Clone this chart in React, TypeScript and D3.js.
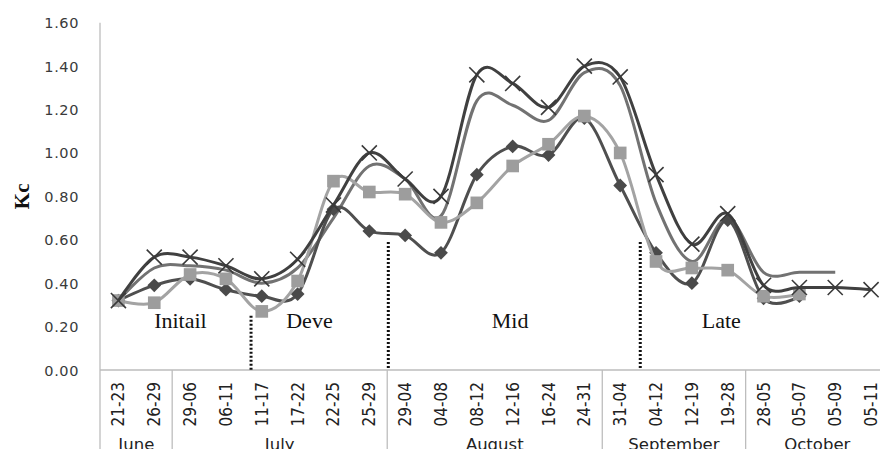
import React from 'react';
import * as d3 from 'd3';

const periods = [
  '21-23', '26-29', '29-06', '06-11', '11-17', '17-22', '22-25', '25-29',
  '29-04', '04-08', '08-12', '12-16', '16-24', '24-31', '31-04', '04-12',
  '12-19', '19-28', '28-05', '05-07', '05-09', '05-11',
];

const months = ['June', 'July', 'August', 'September', 'October'];
const monthSpans = [2, 6, 6, 4, 4];

const kcCross = [0.32, 0.52, 0.52, 0.48, 0.42, 0.51, 0.76, 1.0, 0.88, 0.8, 1.36, 1.32, 1.21, 1.4, 1.35, 0.9, 0.58, 0.72, 0.39, 0.38, 0.38, 0.37];
const kcPlain = [0.32, 0.47, 0.48, 0.46, 0.4, 0.47, 0.7, 0.94, 0.88, 0.71, 1.24, 1.22, 1.15, 1.37, 1.31, 0.77, 0.5, 0.7, 0.45, 0.45, 0.45];
const kcDiamond = [0.32, 0.39, 0.42, 0.37, 0.34, 0.35, 0.74, 0.64, 0.62, 0.54, 0.9, 1.03, 0.99, 1.16, 0.85, 0.54, 0.4, 0.69, 0.33, 0.34];
const kcSquare = [0.32, 0.31, 0.44, 0.42, 0.27, 0.41, 0.87, 0.82, 0.81, 0.68, 0.77, 0.94, 1.04, 1.17, 1.0, 0.5, 0.47, 0.46, 0.34, 0.35];

const yTicks = [0, 0.2, 0.4, 0.6, 0.8, 1.0, 1.2, 1.4, 1.6];

// growth stages, positions in period units
const stages = ['Initail', 'Deve', 'Mid', 'Late'];
const stageAt = [1.73, 5.33, 10.93, 16.82];
const stageBreaks = [3.7, 7.53, 14.56];
const stageBreakTop = [0.25, 0.59, 0.59];

const W = 880;
const H = 449;

export default function App() {
  const x = d3.scaleBand<string>().domain(periods).range([100.5, 889]).padding(0);
  const xi = d3.scaleLinear().domain([0, periods.length]).range([100.5, 889]);
  const y = d3.scaleLinear().domain([0, 1.6]).range([370, 22.7]);
  const cx = (i: number) => (x(periods[i]) as number) + x.bandwidth() / 2;

  const line = d3
    .line<number>()
    .x((_, i) => cx(i))
    .y((d) => y(d))
    .curve(d3.curveCardinal.tension(0));

  const sq = d3.symbol().type(d3.symbolSquare).size(160)();
  const dia = d3.symbol().type(d3.symbolSquare).size(95)();
  const cross = d3.symbol().type(d3.symbolX).size(150)();

  let acc = 0;
  const monthEdges = monthSpans.map((s) => {
    const start = acc;
    acc += s;
    return [start, acc];
  });

  const axisCol = '#bdbdbd';
  const base = y(0);

  return (
    <svg
      width={W}
      height={H}
      style={{ position: 'absolute', left: 0, top: 0, background: '#fff' }}
    >
      {/* y axis */}
      <line x1={100} x2={100} y1={y(1.6)} y2={H} stroke={axisCol} strokeWidth={1.3} />
      <line x1={100} x2={W} y1={base} y2={base} stroke={axisCol} strokeWidth={1.3} />
      {yTicks.map((t) => (
        <text
          key={t}
          x={79}
          y={y(t) + 5.5}
          textAnchor="end"
          fontFamily="DejaVu Sans, Verdana, sans-serif"
          fontSize={14.5}
          letterSpacing={0.6}
          fill="#3a3a3a"
        >
          {t.toFixed(2)}
        </text>
      ))}
      <text
        transform={`translate(29,${y(0.8)}) rotate(-90)`}
        textAnchor="middle"
        fontFamily="Liberation Serif, Times New Roman, serif"
        fontWeight="bold"
        fontSize={21}
        fill="#111"
      >
        Kc
      </text>

      {/* period labels */}
      {periods.map((p, i) => (
        <text
          key={p + i}
          transform={`translate(${cx(i) + 6},${base + 12}) rotate(-90)`}
          textAnchor="end"
          fontFamily="Liberation Sans Narrow, DejaVu Sans Condensed, sans-serif"
          fontSize={17}
          fill="#222"
        >
          {p}
        </text>
      ))}

      {/* month groups */}
      {monthEdges.map(([a, b], i) => (
        <g key={months[i]}>
          {i > 0 && (
            <line x1={xi(a)} x2={xi(a)} y1={base} y2={H} stroke={axisCol} strokeWidth={1.3} />
          )}
          <text
            x={(xi(a) + xi(b)) / 2}
            y={449.5}
            textAnchor="middle"
            fontFamily="DejaVu Sans, Verdana, sans-serif"
            fontSize={16.5}
            fill="#222"
          >
            {months[i]}
          </text>
        </g>
      ))}

      {/* stage breaks */}
      {stageBreaks.map((b, i) => (
        <line
          key={b}
          x1={xi(b + 0.5)}
          x2={xi(b + 0.5)}
          y1={y(stageBreakTop[i])}
          y2={base}
          stroke="#111"
          strokeWidth={3}
          strokeDasharray="2 2"
        />
      ))}
      {stages.map((s, i) => (
        <text
          key={s}
          x={xi(stageAt[i] + 0.5)}
          y={y(0.195)}
          textAnchor="middle"
          fontFamily="Liberation Serif, Times New Roman, serif"
          fontSize={22}
          fill="#111"
        >
          {s}
        </text>
      ))}

      {/* series */}
      <path d={line(kcPlain) || ''} fill="none" stroke="#727272" strokeWidth={3} />
      <path d={line(kcDiamond) || ''} fill="none" stroke="#4f4f4f" strokeWidth={3} />
      {kcDiamond.map((v, i) => (
        <path key={i} d={dia || ''} transform={`translate(${cx(i)},${y(v)}) rotate(45)`} fill="#4a4a4a" />
      ))}
      <path d={line(kcSquare) || ''} fill="none" stroke="#a3a3a3" strokeWidth={3} />
      {kcSquare.map((v, i) => (
        <path key={i} d={sq || ''} transform={`translate(${cx(i)},${y(v)})`} fill="#9d9d9d" />
      ))}
      <path d={line(kcCross) || ''} fill="none" stroke="#404040" strokeWidth={3} />
      {kcCross.map((v, i) => (
        <path key={i} d={cross || ''} transform={`translate(${cx(i)},${y(v)})`} fill="none" stroke="#3a3a3a" strokeWidth={1.6} />
      ))}
    </svg>
  );
}
